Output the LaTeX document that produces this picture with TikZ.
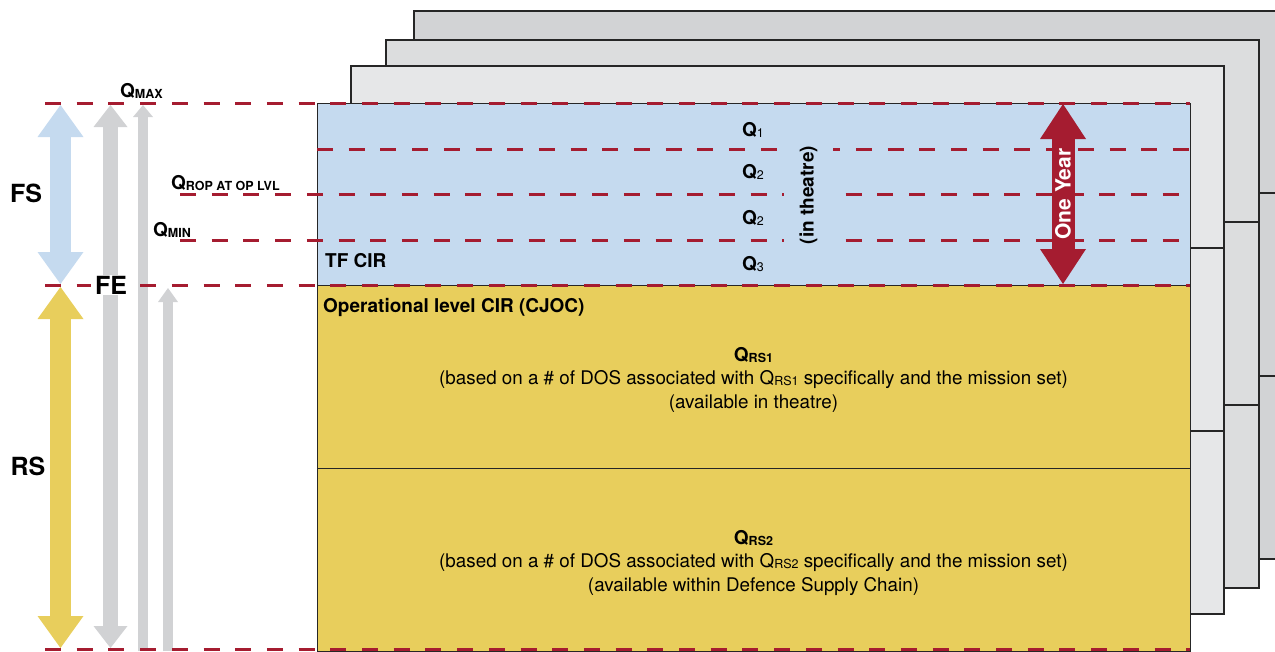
\documentclass[tikz,border=0pt]{standalone}
\usepackage{fontspec}
\setmainfont{TeX Gyre Heros}
\usetikzlibrary{arrows.meta}
\definecolor{tfblue}{HTML}{C5DAEF}
\definecolor{rsyellow}{HTML}{E8CE5C}
\definecolor{fegray}{HTML}{D1D2D4}
\definecolor{qred}{HTML}{A51C30}
\definecolor{pagea}{HTML}{E6E7E8}
\definecolor{pageb}{HTML}{DCDDDE}
\definecolor{pagec}{HTML}{D2D3D5}
\newcommand{\Qsub}[1]{Q\raisebox{-1.5pt}{\fontsize{12.5}{12.5}\selectfont #1}}

\begin{document}
\begin{tikzpicture}[
    x=1pt, y=-1pt,
    page/.style={draw=black!85, line width=1.5pt},
    level/.style={draw=qred, line width=3pt, dash pattern=on 16pt off 15.7pt},
    label/.style={font=\fontsize{19}{22}\selectfont\bfseries, inner sep=0pt},
    note/.style={font=\fontsize{18.8}{22}\selectfont, inner sep=0pt, anchor=base},
    big/.style={font=\fontsize{25}{28}\selectfont\bfseries, inner sep=0pt},
    dimarrow/.style n args={4}{draw=#1, line width=#2,
        {Triangle[width=#3,length=#4,line width=0pt]}-{Triangle[width=#3,length=#4,line width=0pt]}},
    uparrow/.style n args={4}{draw=#1, line width=#2,
        -{Triangle[width=#3,length=#4,line width=0pt]}}
    ]
    \useasboundingbox (0,0) rectangle (1275,651);

    % Stacked pages behind
    \foreach \px/\py/\shade in {414/11/pagec, 386/40/pageb, 351/66/pagea}{
        \filldraw[page, fill=\shade] (\px,\py) rectangle ++(873,548);
        \draw[page] (\px,\py+182) -- ++(873,0);
        \draw[page] (\px,\py+365) -- ++(873,0);
    }

    % Front page
    \fill[tfblue] (317,103) rectangle (1190,285);
    \fill[rsyellow] (317,285) rectangle (1190,651);
    \draw[page, line width=1pt] (317,103) rectangle (1190,651);
    \draw[page, line width=1pt] (317,285) -- (1190,285);
    \draw[page, line width=1pt] (317,468) -- (1190,468);

    % Stock arrows on the left
    \draw[dimarrow={tfblue}{21pt}{46pt}{32pt}] (60.5,105) -- (60.5,284);
    \draw[dimarrow={rsyellow}{21pt}{46pt}{32pt}] (60.5,287) -- (60.5,648);
    \draw[dimarrow={fegray}{15pt}{34pt}{22pt}] (110.5,105) -- (110.5,648);
    \draw[uparrow={fegray}{10pt}{20pt}{12pt}] (143,651) -- (143,105);
    \draw[uparrow={fegray}{10pt}{20pt}{14pt}] (168,651) -- (168,288);

    % Dashed levels
    \draw[level] (45,103) -- (1190,103);
    \draw[level] (317,149) -- (1190,149);
    \draw[level] (180,194.5) -- (1190,194.5);
    \draw[level] (180,240) -- (1190,240);
    \draw[level] (45,285) -- (1190,285);
    \draw[level] (45,649.5) -- (1190,649.5);

    % One year arrow
    \draw[dimarrow={qred}{23pt}{46pt}{35pt}] (1063,104) -- (1063,284);
    \node[rotate=90, font=\fontsize{21}{24}\selectfont\bfseries, text=white] (year) at (1063,194) {One Year};

    % Level labels
    \node[label, anchor=base west] (qmax) at (120,97) {\Qsub{MAX}};
    \node[label, anchor=base west] (qrop) at (171,189) {\Qsub{ROP AT OP LVL}};
    \node[label, anchor=base west] (qmin) at (153,236) {\Qsub{MIN}};
    \node[big] (fs) at (26,193) {FS};
    \node[big, fill=white, inner xsep=4pt, inner ysep=1pt] (fe) at (111,285) {FE};
    \node[big] (rs) at (28,466) {RS};

    % In theatre band
    \foreach \sub/\yb in {1/136, 2/178, 2/224, 3/270}
        \node[label, anchor=base west] (q\yb) at (742,\yb) {\Qsub{\mdseries\sub}};
    \node[label, rotate=90, fill=tfblue, inner xsep=3pt, inner ysep=16pt] (theatre) at (808.5,195) {(in theatre)};
    \node[label, anchor=base west] (tfcir) at (325,267) {TF CIR};
    \node[label, anchor=base west] (opcir) at (323,312) {Operational level CIR (CJOC)};

    % Reserve bands
    \node[label, anchor=base] (rs1) at (753.5,361) {\Qsub{RS1}};
    \node[note] (rs1a) at (753.5,384) {(based on a \# of DOS associated with \Qsub{RS1} specifically and the mission set)};
    \node[note] (rs1b) at (753.5,408) {(available in theatre)};
    \node[label, anchor=base] (rs2) at (753.5,544) {\Qsub{RS2}};
    \node[note] (rs2a) at (753.5,567) {(based on a \# of DOS associated with \Qsub{RS2} specifically and the mission set)};
    \node[note] (rs2b) at (753.5,591) {(available within Defence Supply Chain)};
\end{tikzpicture}
\end{document}
